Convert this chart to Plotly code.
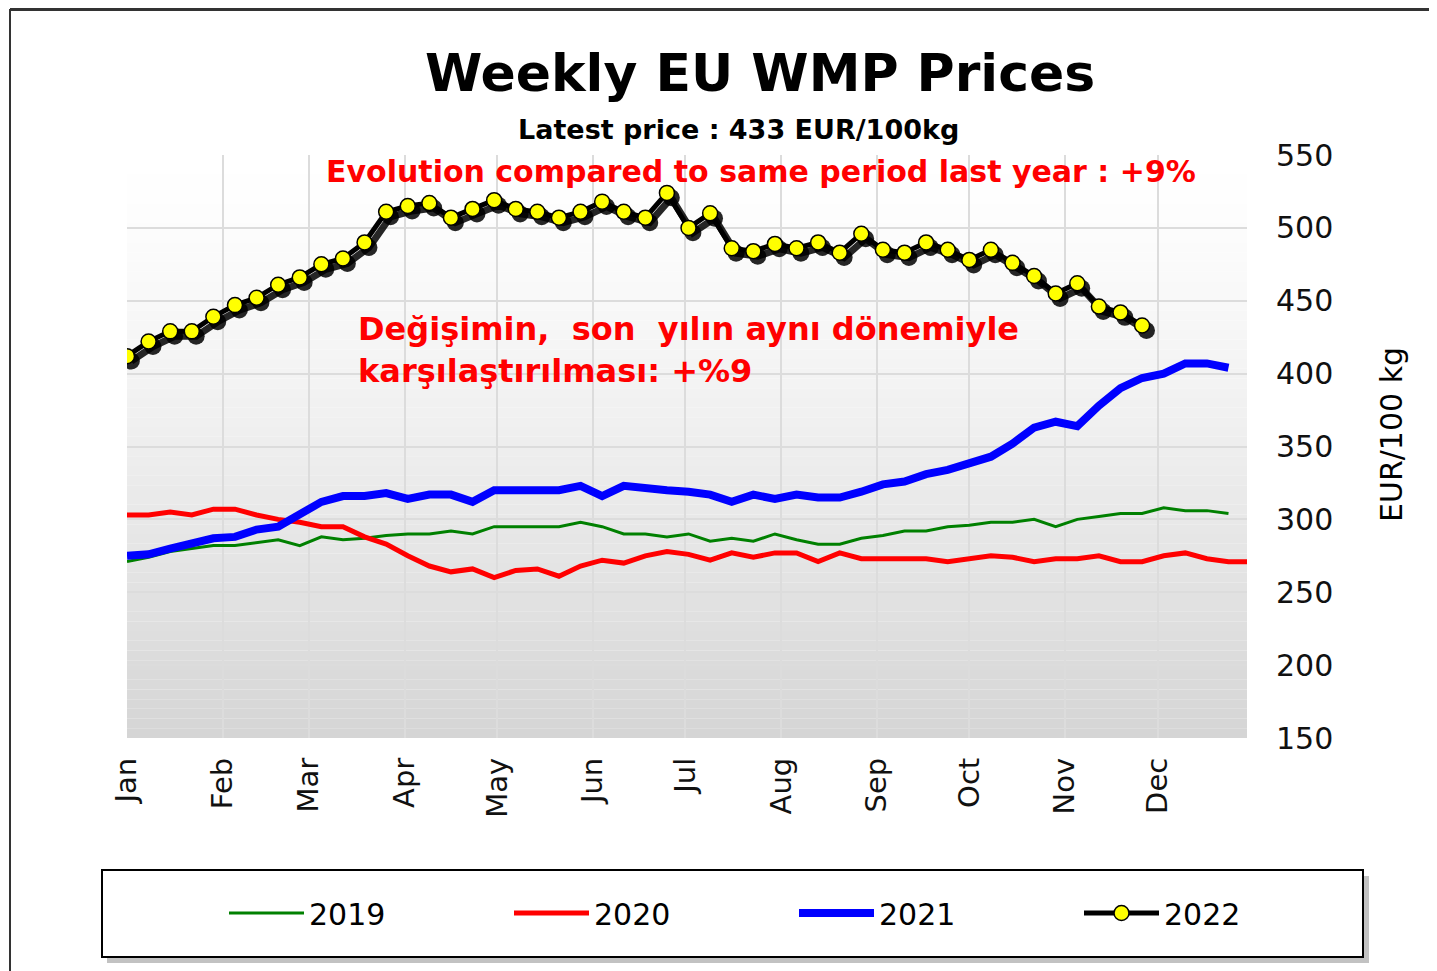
import pandas as pd
import plotly.graph_objects as go

# ---------------- data ----------------
prices_2019 = [271, 274, 278, 280, 282, 282, 284, 286, 282, 288, 286, 287, 289, 290, 290, 292,
               290, 295, 295, 295, 295, 298, 295, 290, 290, 288, 290, 285, 287, 285, 290, 286,
               283, 283, 287, 289, 292, 292, 295, 296, 298, 298, 300, 295, 300, 302, 304, 304,
               308, 306, 306, 304]
prices_2020 = [303, 303, 305, 303, 307, 307, 303, 300, 298, 295, 295, 288, 283, 275, 268, 264,
               266, 260, 265, 266, 261, 268, 272, 270, 275, 278, 276, 272, 277, 274, 277, 277,
               271, 277, 273, 273, 273, 273, 271, 273, 275, 274, 271, 273, 273, 275, 271, 271,
               275, 277, 273, 271, 271]
prices_2021 = [275, 276, 280, 284, 287, 288, 293, 295, 303, 312, 316, 316, 318, 314, 317, 317,
               312, 320, 320, 320, 320, 323, 316, 323, 321, 320, 319, 317, 312, 317, 314, 317,
               315, 315, 319, 324, 326, 331, 334, 338, 343, 352, 363, 367, 364, 378, 390, 397,
               400, 407, 407, 404]
prices_2022 = [412, 422, 429, 429, 439, 447, 452, 461, 466, 475, 479, 490, 511, 515, 517, 507,
               513, 519, 513, 511, 507, 511, 518, 511, 507, 524, 500, 510, 486, 484, 489, 486,
               490, 483, 496, 485, 483, 490, 485, 478, 485, 476, 467, 455, 462, 446, 442, 433]

month_labels = ["Jan", "Feb", "Mar", "Apr", "May", "Jun", "Jul", "Aug", "Sep", "Oct", "Nov", "Dec"]
y_ticks = [150, 200, 250, 300, 350, 400, 450, 500, 550]

title_text = "Weekly EU WMP Prices"
subtitle_text = "Latest price : 433 EUR/100kg"
evolution_text = "Evolution compared to same period last year : +9%"
turkish_text = "Değişimin,\u00a0\u00a0son\u00a0\u00a0yılın aynı dönemiyle<br>karşılaştırılması: +%9"
y_title = "EUR/100 kg"


def weeks(n):
    return pd.date_range("2022-01-01", periods=n, freq="7D")


month_ticks = pd.date_range("2022-01-01", periods=12, freq="MS")

FONT = "DejaVu Sans"
OFF = 8  # page body margin
W, H = 1437 - OFF, 971 - OFF
# plot area in screen pixels
L, R, T, B = 127, 1247, 155, 738
pw, ph = R - L, B - T


def px(x):
    return (x - L) / pw


def py(y):
    return (B - y) / ph


fig = go.Figure()

fig.add_trace(go.Scatter(x=weeks(len(prices_2019)), y=prices_2019, name="2019", mode="lines",
                         line=dict(color="#008000", width=3)))
fig.add_trace(go.Scatter(x=weeks(len(prices_2020)), y=prices_2020, name="2020", mode="lines",
                         line=dict(color="#ff0000", width=5)))
fig.add_trace(go.Scatter(x=weeks(len(prices_2021)), y=prices_2021, name="2021", mode="lines",
                         line=dict(color="#0000ff", width=8)))
# soft shadow of the 2022 series (same data through a slightly shifted overlay axis)
fig.add_trace(go.Scatter(x=weeks(len(prices_2022)), y=prices_2022, name="shadow", mode="lines+markers",
                         line=dict(color="rgba(0,0,0,0.85)", width=7),
                         marker=dict(color="rgba(0,0,0,0.85)", size=17),
                         xaxis="x2", yaxis="y2", showlegend=False, hoverinfo="skip"))
fig.add_trace(go.Scatter(x=weeks(len(prices_2022)), y=prices_2022, name="2022", mode="lines+markers",
                         line=dict(color="#000000", width=5),
                         marker=dict(color="#ffff00", size=15, line=dict(color="#000000", width=1.5)),
                         xaxis="x3", yaxis="y3"))

x_range = ["2022-01-01", "2022-12-30"]
x_range_shadow = ["2021-12-30 14:00", "2022-12-28 14:00"]

fig.update_layout(
    width=W, height=H,
    margin=dict(l=L - OFF, r=W - (R - OFF), t=T - OFF, b=H - (B - OFF)),
    paper_bgcolor="white", plot_bgcolor="white",
    font=dict(family=FONT, color="#000000"),
    xaxis=dict(type="date", range=x_range, tickvals=month_ticks, ticktext=month_labels,
               tickangle=-90, tickfont=dict(size=29, family=FONT, color="#111111"),
               showgrid=True, gridcolor="#dcdcdc", gridwidth=2, zeroline=False,
               showline=False, ticks="", ticklabelstandoff=13),
    yaxis=dict(range=[150, 550], tickvals=y_ticks, side="right",
               tickfont=dict(size=30, family=FONT, color="#111111"),
               showgrid=True, gridcolor="#dcdcdc", gridwidth=2, zeroline=False,
               showline=False, ticks="", ticklabelstandoff=28),
    xaxis2=dict(type="date", range=x_range_shadow, overlaying="x", visible=False),
    yaxis2=dict(range=[153.4, 553.4], overlaying="y", visible=False),
    xaxis3=dict(type="date", range=x_range, overlaying="x", visible=False),
    yaxis3=dict(range=[150, 550], overlaying="y", visible=False),
    legend=dict(orientation="h", x=px(1364), y=py(913), xanchor="right", yanchor="middle",
                bgcolor="rgba(0,0,0,0)", font=dict(size=30, family=FONT),
                entrywidth=195, entrywidthmode="pixels", itemwidth=75),
    showlegend=True,
)

shapes = []
# gradient background of the plot area
n_bands = 60
for i in range(n_bands):
    t = i / (n_bands - 1)
    g = t ** 1.3
    v = int(round(255 - (255 - 213) * g))
    shapes.append(dict(type="rect", xref="x domain", yref="y domain",
                       x0=0, x1=1, y0=1 - (i + 1) / n_bands, y1=1 - i / n_bands,
                       fillcolor=f"rgb({v},{v},{v})", line=dict(width=0), layer="below"))
# outer frame (top and left)
shapes.append(dict(type="line", xref="paper", yref="paper", x0=px(10), x1=px(1445),
                   y0=py(9.5), y1=py(9.5), line=dict(color="#333333", width=3)))
shapes.append(dict(type="line", xref="paper", yref="paper", x0=px(10), x1=px(10),
                   y0=py(9), y1=py(980), line=dict(color="#333333", width=2)))
# legend box with shadow
shapes.append(dict(type="rect", xref="paper", yref="paper", x0=px(107), x1=px(1369),
                   y0=py(963), y1=py(876), fillcolor="rgba(120,120,120,0.45)",
                   line=dict(width=0), layer="below"))
shapes.append(dict(type="rect", xref="paper", yref="paper", x0=px(102), x1=px(1363),
                   y0=py(957), y1=py(870), fillcolor="white",
                   line=dict(color="#000000", width=2), layer="below"))
fig.update_layout(shapes=shapes)

annotations = [
    dict(text=f"<b>{title_text}</b>", xref="paper", yref="paper", x=px(760), y=py(73),
         showarrow=False, font=dict(size=52, family=FONT, color="#000000"),
         xanchor="center", yanchor="middle"),
    dict(text=f"<b>{subtitle_text}</b>", xref="paper", yref="paper", x=px(738), y=py(129),
         showarrow=False, font=dict(size=27, family=FONT, color="#000000"),
         xanchor="center", yanchor="middle"),
    dict(text=f"<b>{evolution_text}</b>", xref="paper", yref="paper", x=px(761), y=py(172),
         showarrow=False, font=dict(size=30, family=FONT, color="#ff0000"),
         xanchor="center", yanchor="middle"),
    dict(text=f"<b>{turkish_text}</b>", xref="paper", yref="paper", x=px(356), y=py(350),
         showarrow=False, font=dict(size=32, family=FONT, color="#ff0000"),
         xanchor="left", yanchor="middle", align="left"),
    dict(text=y_title, xref="paper", yref="paper", x=px(1391), y=py(435),
         showarrow=False, textangle=-90, font=dict(size=30, family=FONT, color="#000000"),
         xanchor="center", yanchor="middle"),
]
fig.update_layout(annotations=annotations)

fig.write_html("out.html")
